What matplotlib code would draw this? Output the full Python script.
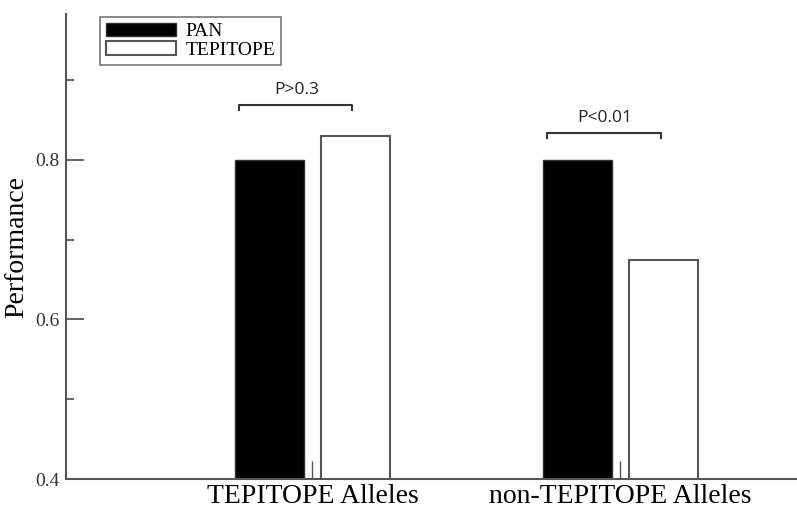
import matplotlib
matplotlib.use('Agg')
import matplotlib.pyplot as plt
from matplotlib.ticker import MultipleLocator
import numpy as np

categories = ['TEPITOPE Alleles', 'non-TEPITOPE Alleles']
pan = [0.80, 0.80]
tepitope = [0.830, 0.675]
p_labels = ['P>0.3', 'P<0.01']
bracket_y = [0.869, 0.834]

plt.rcParams['font.family'] = ['Liberation Serif', 'DejaVu Serif']

fig = plt.figure(figsize=(7.97, 5.09), dpi=100)
ax = fig.add_axes([66/797, 30/509, 1 - 66/797, 465/509])

x = np.arange(1, len(categories) + 1)
w = 0.224
off = 0.14
ax.bar(x - off, pan, w, color='black', edgecolor='#333333', linewidth=1.0, label='PAN')
ax.bar(x + off, tepitope, w, color='white', edgecolor='#555555', linewidth=1.5, label='TEPITOPE')

ax.set_xlim(0.2, 2.573)
ax.set_ylim(0.4, 0.983)
ax.set_xticks(x)
ax.set_xticklabels(categories, fontsize=20)
ax.yaxis.set_minor_locator(MultipleLocator(0.1))
ax.set_yticks([0.4, 0.6, 0.8])
ax.set_yticklabels(['0.4', '0.6', '0.8'])
ax.tick_params(axis='y', which='major', direction='in', length=13, width=1.3,
               color='#555555', labelsize=14, labelcolor='#333333', pad=5)
ax.tick_params(axis='y', which='minor', direction='in', length=6, width=1.3, color='#555555')
ax.tick_params(axis='x', direction='in', length=13, width=1.0, color='#555555', pad=3.5)
ax.set_ylabel('Performance', fontsize=20, labelpad=4)

for s in ['top', 'right']:
    ax.spines[s].set_visible(False)
for s in ['left', 'bottom']:
    ax.spines[s].set_color('#555555')
    ax.spines[s].set_linewidth(1.5)

# significance brackets
for xi, yb, lab in zip(x, bracket_y, p_labels):
    x0 = xi - off - 0.1
    x1 = xi + off - 0.01
    ax.plot([x0, x0, x1, x1], [yb - 0.006, yb, yb, yb - 0.006], color='#333333', lw=1.5,
            clip_on=False)
    ax.text((x0 + x1) / 2 + 0.005, yb + 0.009, lab, ha='center', va='bottom',
            fontsize=12.5, family=['Open Sans', 'DejaVu Sans'], color='#222222')

leg = ax.legend(loc='upper left', bbox_to_anchor=(100/797, 1 - 17/509),
                bbox_transform=fig.transFigure, borderaxespad=0, fancybox=False,
                fontsize=14, handlelength=3.6, handleheight=0.7, labelspacing=0.05,
                borderpad=0.3, handletextpad=0.5, frameon=True)
leg.get_frame().set_edgecolor('#555555')
leg.get_frame().set_linewidth(1.2)

fig.savefig('out.png', dpi=100)
